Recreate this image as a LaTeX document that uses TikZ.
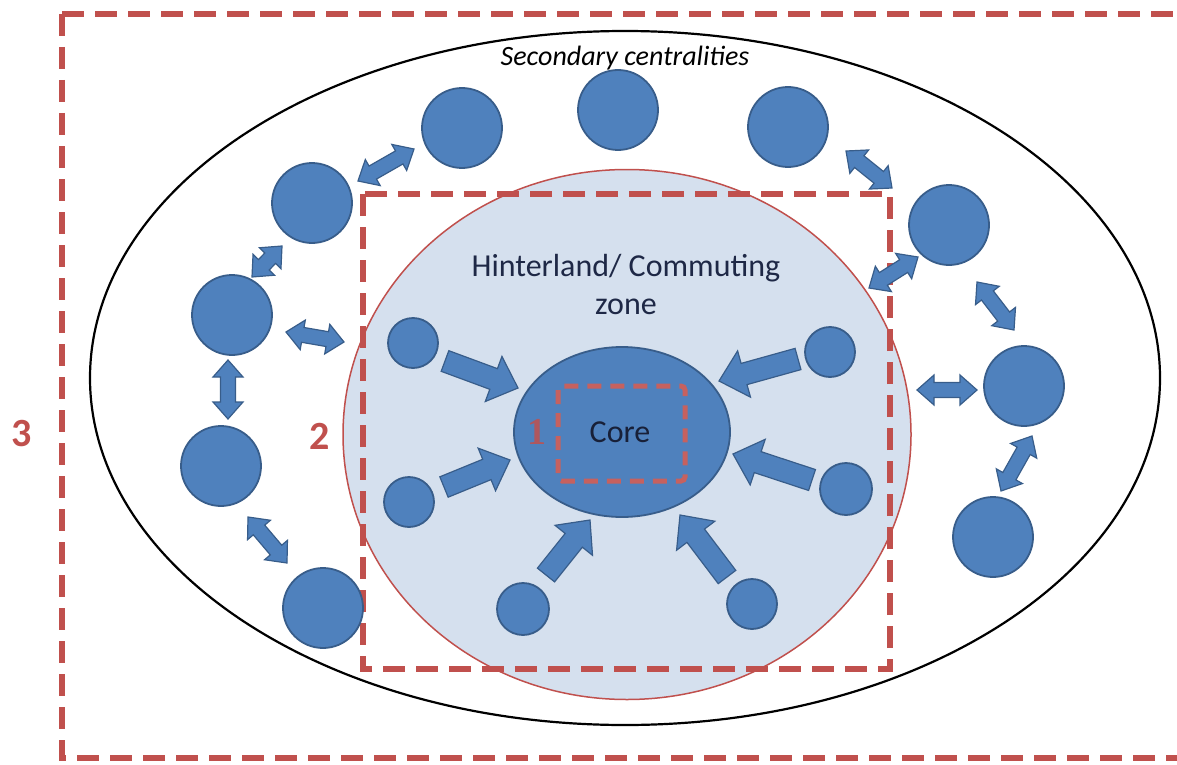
\documentclass[tikz,border=0pt]{standalone}
\usepackage{fontspec}
\setmainfont{Carlito}
\newfontfamily\serifnum{Liberation Serif}
\usetikzlibrary{calc,shapes.geometric}
\definecolor{ofred}{RGB}{192,80,77}
\definecolor{ofblue}{RGB}{79,129,189}
\definecolor{ofline}{RGB}{56,93,138}
\definecolor{hinter}{RGB}{213,224,238}
\definecolor{navy}{RGB}{30,40,70}
\tikzset{
  zonebox/.style={draw=ofred, line width=6pt, dash pattern=on 22pt off 11pt},
  corebox/.style={draw=ofred!90!white, line width=5pt, dash pattern=on 14pt off 9pt, rounded corners=4pt},
  bigc/.style={circle, draw=ofline, line width=1.8pt, fill=ofblue, minimum size=80pt, inner sep=0pt},
  smallc/.style={circle, draw=ofline, line width=1.8pt, fill=ofblue, minimum size=50pt, inner sep=0pt},
  barrow/.style={fill=ofblue, draw=ofline, line width=1.2pt, line join=miter},
  znum/.style={text=ofred, font=\fontsize{40}{44}\selectfont\bfseries},
}
% single block arrow: #1 shaft half width, #2 head half width, #3 head length, #4 tail, #5 tip
\newcommand\sblockarrow[5]{%
  \coordinate (hb) at ($(#5)!#3!(#4)$);
  \filldraw[barrow] ($(#4)!#1!90:(#5)$) -- ($(hb)!#1!90:(#5)$) -- ($(hb)!#2!90:(#5)$) -- (#5)
    -- ($(hb)!#2!-90:(#5)$) -- ($(hb)!#1!-90:(#5)$) -- ($(#4)!#1!-90:(#5)$) -- cycle;}
% double block arrow between #4 and #5
\newcommand\dblockarrow[5]{%
  \coordinate (ha) at ($(#4)!#3!(#5)$);
  \coordinate (hb) at ($(#5)!#3!(#4)$);
  \filldraw[barrow] (#4) -- ($(ha)!#2!90:(#5)$) -- ($(ha)!#1!90:(#5)$) -- ($(hb)!#1!90:(#5)$)
    -- ($(hb)!#2!90:(#5)$) -- (#5) -- ($(hb)!#2!-90:(#5)$) -- ($(hb)!#1!-90:(#5)$)
    -- ($(ha)!#1!-90:(#5)$) -- ($(ha)!#2!-90:(#5)$) -- cycle;}
\begin{document}
\begin{tikzpicture}[x=1pt,y=-1pt]
\useasboundingbox (0,0) rectangle (1177,765);
\begin{scope}
\clip (0,0) rectangle (1177,765);
% zone 3
\draw[zonebox] (62,14) -- (1250,14) (62,14) -- (62,758) -- (1250,758);
\end{scope}
% secondary centralities ellipse
\draw[black, line width=2.2pt] (625,378) ellipse [x radius=535, y radius=347];
\node[font=\fontsize{28}{32}\selectfont\itshape] (sec) at (625,58) {Secondary centralities};
% hinterland
\filldraw[fill=hinter, draw=ofred, line width=1.5pt] (627,434.5) ellipse [x radius=284, y radius=265];
\node[text=navy, font=\fontsize{32}{36}\selectfont, align=center] (hint) at (626,284) {Hinterland/ Commuting\\[2pt]zone};
% zone 2
\draw[zonebox] (363,194) rectangle (890,669);
% core
\node[draw=ofline, line width=1.8pt, fill=ofblue, ellipse, minimum width=216pt, minimum height=170pt, inner sep=0pt] (core) at (622,432) {};
\draw[corebox] (558,386) rectangle (685,481);
\node[text=navy!80!black, font=\fontsize{32}{36}\selectfont] (coret) at (620,432) {Core};
% zone numbers
\node[znum] (n3) at (22,434) {3};
\node[znum] (n2) at (320,436) {2};
\node[text=ofred!85!ofblue, font=\fontsize{38}{40}\selectfont\serifnum\bfseries] (n1) at (537,432) {1};
% secondary centralities
\node[bigc] (c1) at (462,128) {};
\node[bigc] (c2) at (618,110) {};
\node[bigc] (c3) at (788,127) {};
\node[bigc] (c4) at (312,203) {};
\node[bigc] (c5) at (949,225) {};
\node[bigc] (c6) at (232,315) {};
\node[bigc] (c7) at (1024,386) {};
\node[bigc] (c8) at (221,466) {};
\node[bigc] (c9) at (993,537) {};
\node[bigc] (c10) at (323,608) {};
% hinterland places
\node[smallc] (a) at (413,343) {};
\node[smallc] (b) at (830,352) {};
\node[smallc] (c) at (409,502) {};
\node[smallc, minimum size=52pt] (d) at (846,489) {};
\node[smallc, minimum size=52pt] (e) at (523,609) {};
\node[smallc] (f) at (752,604) {};
% arrow ends
\coordinate (a0) at (445,361); \coordinate (a1) at (518,388);
\coordinate (b0) at (798,359); \coordinate (b1) at (719,381);
\coordinate (c0) at (444,487); \coordinate (c1e) at (510,460);
\coordinate (d0) at (812,480); \coordinate (d1e) at (733,454);
\coordinate (e0) at (546,575); \coordinate (e1) at (590,520);
\coordinate (f0) at (727,577); \coordinate (f1) at (680,515);
\sblockarrow{11pt}{24pt}{26pt}{a0}{a1}
\sblockarrow{11pt}{24pt}{26pt}{b0}{b1}
\sblockarrow{11pt}{23pt}{25pt}{c0}{c1e}
\sblockarrow{11pt}{24pt}{26pt}{d0}{d1e}
\sblockarrow{11pt}{24pt}{26pt}{e0}{e1}
\sblockarrow{11pt}{24pt}{26pt}{f0}{f1}
% double arrows
\coordinate (p1) at (358,181); \coordinate (q1) at (414,149);
\coordinate (p2) at (252,277); \coordinate (q2) at (282,246);
\coordinate (p3) at (286,332); \coordinate (q3) at (344,342);
\coordinate (p4) at (228,360); \coordinate (q4) at (228,419);
\coordinate (p5) at (248,517); \coordinate (q5) at (287,563);
\coordinate (p6) at (846,151); \coordinate (q6) at (892,188);
\coordinate (p7) at (918,257); \coordinate (q7) at (869,288);
\coordinate (p8) at (977,282); \coordinate (q8) at (1014,330);
\coordinate (p9) at (917,390); \coordinate (q9) at (977,390);
\coordinate (p10) at (1032,436); \coordinate (q10) at (1001,491);
\foreach \i in {1,...,10}{\dblockarrow{7.5pt}{15pt}{17pt}{p\i}{q\i}}
\end{tikzpicture}
\end{document}
